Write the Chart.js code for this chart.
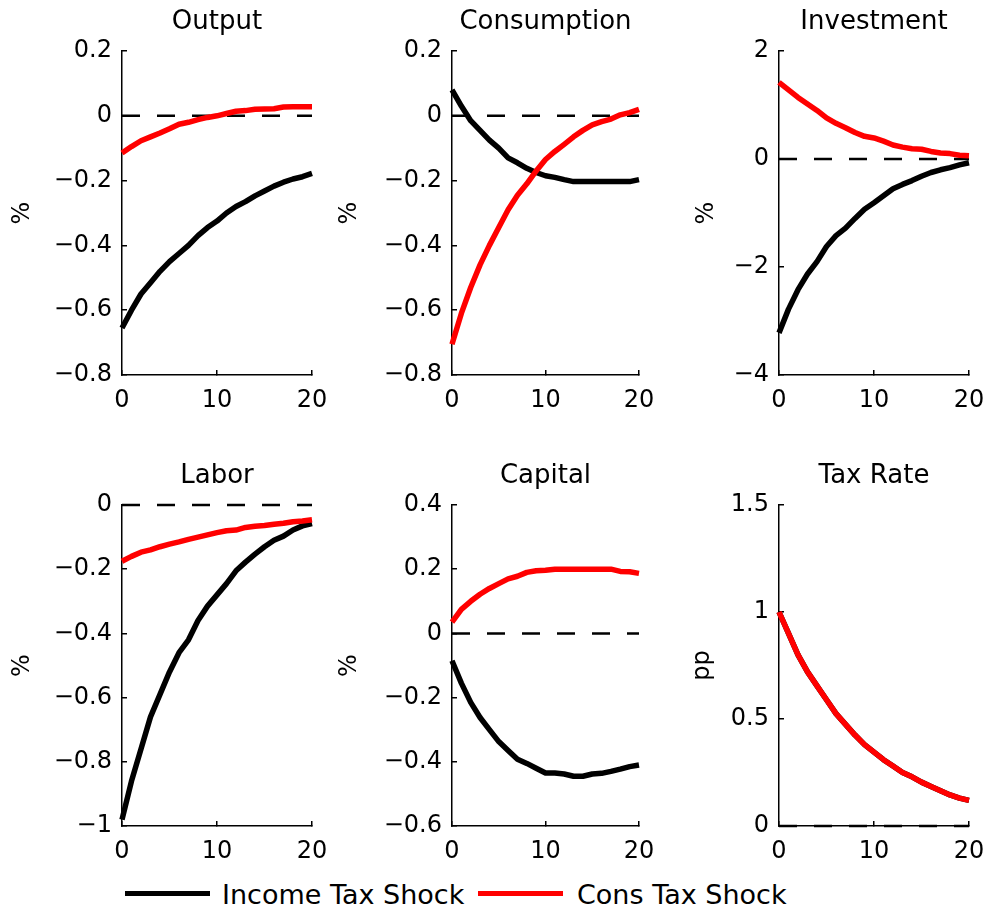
<!DOCTYPE html>
<html>
<head>
<meta charset="utf-8">
<script src="https://cdn.jsdelivr.net/npm/chart.js@4/dist/chart.umd.min.js"></script>
<style>
  html, body { margin: 0; padding: 0; background: #fff; }
  body { width: 992px; height: 917px; position: relative; overflow: hidden; font-family: "DejaVu Sans", sans-serif; }
  canvas { position: absolute; }
  .lg-line { position: absolute; height: 5px; }
  .lg-text { position: absolute; font-size: 27px; line-height: 30px; color: #000; white-space: nowrap; }
</style>
</head>
<body>
<canvas id="p-output"></canvas>
<canvas id="p-consumption"></canvas>
<canvas id="p-investment"></canvas>
<canvas id="p-labor"></canvas>
<canvas id="p-capital"></canvas>
<canvas id="p-taxrate"></canvas>

<div class="lg-line" style="left:125px; top:890.5px; width:85px; background:#000;"></div>
<div class="lg-text" style="left:222px; top:880px;">Income Tax Shock</div>
<div class="lg-line" style="left:478px; top:890.5px; width:85px; background:#ff0000;"></div>
<div class="lg-text" style="left:577px; top:880px;">Cons Tax Shock</div>

<script>
// Horizon (quarters after the shock)
const periods = [0, 1, 2, 3, 4, 5, 6, 7, 8, 9, 10, 11, 12, 13, 14, 15, 16, 17, 18, 19, 20];

// Impulse responses: income tax shock
const outputIncome      = [-0.655, -0.60, -0.55, -0.515, -0.48, -0.45, -0.425, -0.40, -0.37, -0.345, -0.325, -0.30, -0.28, -0.265, -0.247, -0.232, -0.217, -0.205, -0.195, -0.188, -0.178];
const consumptionIncome = [0.08, 0.03, -0.015, -0.045, -0.075, -0.10, -0.13, -0.145, -0.162, -0.175, -0.185, -0.19, -0.197, -0.203, -0.203, -0.203, -0.203, -0.203, -0.203, -0.203, -0.197];
const investmentIncome  = [-3.22, -2.78, -2.42, -2.13, -1.90, -1.62, -1.42, -1.28, -1.10, -0.93, -0.81, -0.68, -0.55, -0.47, -0.40, -0.32, -0.25, -0.20, -0.16, -0.11, -0.07];
const laborIncome       = [-0.98, -0.86, -0.76, -0.66, -0.59, -0.52, -0.46, -0.42, -0.36, -0.315, -0.28, -0.245, -0.205, -0.178, -0.153, -0.13, -0.11, -0.097, -0.078, -0.065, -0.058];
const capitalIncome     = [-0.085, -0.155, -0.215, -0.262, -0.30, -0.337, -0.365, -0.392, -0.405, -0.42, -0.435, -0.435, -0.438, -0.445, -0.445, -0.438, -0.436, -0.43, -0.423, -0.415, -0.41];
const taxRateIncome     = [1.0, 0.90, 0.80, 0.72, 0.655, 0.59, 0.525, 0.475, 0.425, 0.38, 0.345, 0.31, 0.28, 0.25, 0.23, 0.205, 0.185, 0.165, 0.145, 0.13, 0.12];

// Impulse responses: consumption tax shock
const outputCons      = [-0.115, -0.095, -0.077, -0.065, -0.053, -0.04, -0.026, -0.02, -0.012, -0.005, 0.0, 0.007, 0.014, 0.016, 0.02, 0.021, 0.022, 0.027, 0.028, 0.028, 0.028];
const consumptionCons = [-0.705, -0.61, -0.53, -0.46, -0.40, -0.345, -0.29, -0.245, -0.21, -0.17, -0.135, -0.11, -0.088, -0.065, -0.045, -0.028, -0.018, -0.01, 0.003, 0.01, 0.02];
const investmentCons  = [1.42, 1.28, 1.14, 1.02, 0.90, 0.76, 0.66, 0.58, 0.49, 0.42, 0.39, 0.33, 0.26, 0.22, 0.19, 0.18, 0.14, 0.11, 0.10, 0.07, 0.06];
const laborCons       = [-0.175, -0.16, -0.147, -0.14, -0.13, -0.122, -0.115, -0.107, -0.10, -0.093, -0.086, -0.08, -0.078, -0.07, -0.066, -0.064, -0.06, -0.057, -0.052, -0.05, -0.046];
const capitalCons     = [0.035, 0.075, 0.10, 0.122, 0.14, 0.155, 0.17, 0.178, 0.19, 0.195, 0.197, 0.2, 0.2, 0.2, 0.2, 0.2, 0.2, 0.2, 0.193, 0.192, 0.187];
const taxRateCons     = [1.0, 0.90, 0.80, 0.72, 0.655, 0.59, 0.525, 0.475, 0.425, 0.38, 0.345, 0.31, 0.28, 0.25, 0.23, 0.205, 0.185, 0.165, 0.145, 0.13, 0.12];

// Axis ticks
const xTicks           = [0, 10, 20];
const outputTicks      = [-0.8, -0.6, -0.4, -0.2, 0, 0.2];
const consumptionTicks = [-0.8, -0.6, -0.4, -0.2, 0, 0.2];
const investmentTicks  = [-4, -2, 0, 2];
const laborTicks       = [-1, -0.8, -0.6, -0.4, -0.2, 0];
const capitalTicks     = [-0.6, -0.4, -0.2, 0, 0.2, 0.4];
const taxRateTicks     = [0, 0.5, 1, 1.5];

// Panel titles and units
const titles = ['Output', 'Consumption', 'Investment', 'Labor', 'Capital', 'Tax Rate'];
const units  = ['%', '%', '%', '%', '%', 'pp'];

const FONT = '"DejaVu Sans", sans-serif';
const RED = '#ff0000';
const BLACK = '#000000';

const fmt = v => (v < 0 ? '\u2212' : '') + String(Math.abs(v));

// Layout of each panel on the page
const rows = [
  { top: 0,   plotH: 324 },
  { top: 454, plotH: 321 }
];
const cols = [
  { left: 0,   yw: 122, plotW: 190, padRight: 45, yPad: [10.5, 10.5] },
  { left: 330, yw: 122, plotW: 187, padRight: 45, yPad: [8, 8] },
  { left: 685, yw: 94,  plotW: 190, padRight: 45, yPad: [10, 6] }
];
const TITLE_H = 51;  // 26 font + 9 top + 16 bottom
const XAXIS_H = 45;

function pts(vals) { return periods.map((t, i) => ({ x: t, y: vals[i] })); }

function makePanel(id, idx, income, cons, yTicks) {
  const r = rows[Math.floor(idx / 3)];
  const c = cols[idx % 3];
  const canvas = document.getElementById(id);
  const w = c.yw + c.plotW + c.padRight;
  const h = TITLE_H + r.plotH + XAXIS_H;
  canvas.width = w; canvas.height = h;
  canvas.style.left = c.left + 'px';
  canvas.style.top = r.top + 'px';
  canvas.style.width = w + 'px';
  canvas.style.height = h + 'px';

  const axisCommon = {
    grid: { drawOnChartArea: false, drawTicks: true, tickLength: -5, color: BLACK, lineWidth: 1.5 },
    border: { display: true, color: BLACK, width: 1.5 }
  };

  new Chart(canvas, {
    type: 'line',
    data: {
      datasets: [
        { label: 'Cons Tax Shock', data: pts(cons), borderColor: RED, borderWidth: 5.5,
          pointRadius: 0, tension: 0, order: 0, borderJoinStyle: 'round', clip: 8 },
        { label: 'Income Tax Shock', data: pts(income), borderColor: BLACK, borderWidth: 5.5,
          pointRadius: 0, tension: 0, order: 1, borderJoinStyle: 'round', clip: 8 },
        { label: 'zero', data: pts(periods.map(() => 0)), borderColor: BLACK, borderWidth: 2.5,
          borderDash: [18, 17], pointRadius: 0, tension: 0, order: 2, clip: 8 }
      ]
    },
    options: {
      responsive: false,
      animation: false,
      devicePixelRatio: 1,
      layout: { padding: { left: 0, top: 0, right: c.padRight, bottom: 0 } },
      plugins: {
        legend: { display: false },
        tooltip: { enabled: false },
        title: {
          display: true, text: titles[idx], fullSize: false, color: BLACK,
          font: { family: FONT, size: 26, weight: 'normal', lineHeight: 1 },
          padding: { top: 9, bottom: 16 }
        }
      },
      scales: {
        x: Object.assign({
          type: 'linear', min: 0, max: 20,
          afterBuildTicks: s => { s.ticks = xTicks.map(v => ({ value: v })); },
          afterFit: s => { s.height = XAXIS_H; },
          ticks: { color: BLACK, font: { family: FONT, size: 24 }, padding: 16,
                   maxRotation: 0, autoSkip: false, callback: v => fmt(v) }
        }, axisCommon),
        y: Object.assign({
          type: 'linear', min: yTicks[0], max: yTicks[yTicks.length - 1],
          afterBuildTicks: s => { s.ticks = yTicks.map(v => ({ value: v })); },
          afterFit: s => { s.width = c.yw; },
          ticks: { color: BLACK, font: { family: FONT, size: 24 }, padding: 15,
                   autoSkip: false, callback: v => fmt(v) },
          title: { display: true, text: units[idx], color: BLACK,
                   font: { family: FONT, size: 24, lineHeight: 1 },
                   padding: { top: c.yPad[Math.floor(idx / 3)], bottom: 0 } }
        }, axisCommon)
      }
    }
  });
}

makePanel('p-output',      0, outputIncome,      outputCons,      outputTicks);
makePanel('p-consumption', 1, consumptionIncome, consumptionCons, consumptionTicks);
makePanel('p-investment',  2, investmentIncome,  investmentCons,  investmentTicks);
makePanel('p-labor',       3, laborIncome,       laborCons,       laborTicks);
makePanel('p-capital',     4, capitalIncome,     capitalCons,     capitalTicks);
makePanel('p-taxrate',     5, taxRateIncome,     taxRateCons,     taxRateTicks);
</script>
</body>
</html>
